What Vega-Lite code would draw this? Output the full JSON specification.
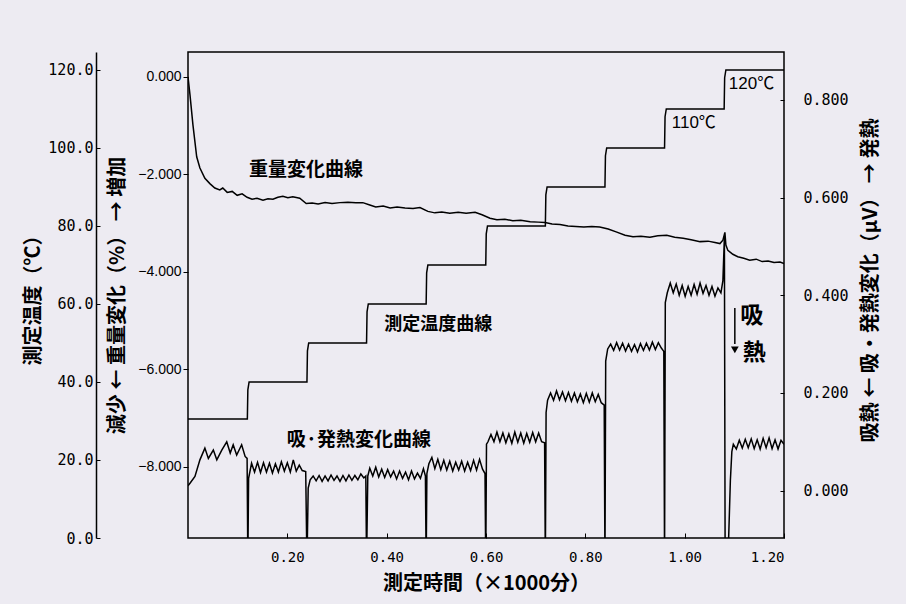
{
  "$schema": "https://vega.github.io/schema/vega-lite/v6.json",
  "width": 596,
  "height": 486,
  "autosize": {"type": "none"},
  "padding": {"left": 188, "top": 52, "right": 122, "bottom": 66},
  "background": "#EDEBF2",
  "config": {
    "view": {"stroke": "black", "strokeWidth": 1.5},
    "axis": {"grid": false, "domainColor": "black", "tickColor": "black", "labelColor": "black", "titleColor": "black"}
  },
  "datasets": {
    "weight": [
      {"t":0,"v":0},{"t":0.004,"v":-0.37},{"t":0.010,"v":-0.99},{"t":0.0175,"v":-1.64},{"t":0.024,"v":-1.87},{"t":0.034,"v":-2.08},{"t":0.044,"v":-2.19},{"t":0.054,"v":-2.28},{"t":0.064,"v":-2.32},{"t":0.070,"v":-2.28},{"t":0.079,"v":-2.37},{"t":0.089,"v":-2.35},{"t":0.099,"v":-2.43},{"t":0.109,"v":-2.40},{"t":0.119,"v":-2.47},{"t":0.129,"v":-2.51},{"t":0.139,"v":-2.49},{"t":0.151,"v":-2.53},{"t":0.161,"v":-2.50},{"t":0.171,"v":-2.51},{"t":0.181,"v":-2.47},{"t":0.191,"v":-2.45},{"t":0.201,"v":-2.48},{"t":0.211,"v":-2.46},{"t":0.225,"v":-2.49},{"t":0.238,"v":-2.60},{"t":0.250,"v":-2.59},{"t":0.262,"v":-2.61},{"t":0.276,"v":-2.58},{"t":0.290,"v":-2.60},{"t":0.306,"v":-2.58},{"t":0.322,"v":-2.57},{"t":0.338,"v":-2.58},{"t":0.352,"v":-2.58},{"t":0.366,"v":-2.63},{"t":0.378,"v":-2.67},{"t":0.393,"v":-2.65},{"t":0.407,"v":-2.69},{"t":0.421,"v":-2.67},{"t":0.437,"v":-2.69},{"t":0.453,"v":-2.70},{"t":0.467,"v":-2.68},{"t":0.483,"v":-2.76},{"t":0.497,"v":-2.79},{"t":0.511,"v":-2.77},{"t":0.527,"v":-2.80},{"t":0.544,"v":-2.78},{"t":0.560,"v":-2.80},{"t":0.578,"v":-2.78},{"t":0.592,"v":-2.83},{"t":0.608,"v":-2.90},{"t":0.622,"v":-2.93},{"t":0.638,"v":-2.92},{"t":0.654,"v":-2.95},{"t":0.670,"v":-2.94},{"t":0.689,"v":-2.97},{"t":0.705,"v":-2.98},{"t":0.719,"v":-2.99},{"t":0.733,"v":-3.02},{"t":0.749,"v":-3.03},{"t":0.765,"v":-3.06},{"t":0.781,"v":-3.07},{"t":0.797,"v":-3.08},{"t":0.813,"v":-3.07},{"t":0.829,"v":-3.08},{"t":0.846,"v":-3.12},{"t":0.862,"v":-3.18},{"t":0.880,"v":-3.25},{"t":0.896,"v":-3.28},{"t":0.912,"v":-3.27},{"t":0.930,"v":-3.29},{"t":0.946,"v":-3.26},{"t":0.964,"v":-3.25},{"t":0.980,"v":-3.29},{"t":0.997,"v":-3.31},{"t":1.013,"v":-3.34},{"t":1.031,"v":-3.38},{"t":1.047,"v":-3.37},{"t":1.061,"v":-3.40},{"t":1.071,"v":-3.42},{"t":1.077,"v":-3.35},{"t":1.081,"v":-3.19},{"t":1.083,"v":-3.45},{"t":1.087,"v":-3.56},{"t":1.097,"v":-3.64},{"t":1.107,"v":-3.69},{"t":1.119,"v":-3.72},{"t":1.131,"v":-3.76},{"t":1.144,"v":-3.74},{"t":1.156,"v":-3.79},{"t":1.168,"v":-3.78},{"t":1.180,"v":-3.81},{"t":1.192,"v":-3.80},{"t":1.2,"v":-3.83}
    ],
    "weightText": [{"t":0.123,"v":-1.91,"s":"重量変化曲線"}],
    "temp": [
      {"t":0,"v":30.5},{"t":0.1195,"v":30.5},{"t":0.1205,"v":38},{"t":0.123,"v":40},{"t":0.2395,"v":40},{"t":0.2405,"v":48},{"t":0.243,"v":50},{"t":0.3595,"v":50},{"t":0.3605,"v":58},{"t":0.363,"v":60},{"t":0.4795,"v":60},{"t":0.4805,"v":68},{"t":0.483,"v":70},{"t":0.5995,"v":70},{"t":0.6005,"v":78},{"t":0.603,"v":80},{"t":0.7195,"v":80},{"t":0.7205,"v":88},{"t":0.723,"v":90},{"t":0.8395,"v":90},{"t":0.8405,"v":98},{"t":0.843,"v":100},{"t":0.9595,"v":100},{"t":0.9605,"v":108},{"t":0.963,"v":110},{"t":1.0795,"v":110},{"t":1.0805,"v":118},{"t":1.083,"v":120},{"t":1.2,"v":120}
    ],
    "tempTextBold": [{"t":0.395,"v":54.6,"s":"測定温度曲線"}],
    "tempText": [{"t":0.974,"v":106.4,"s":"110℃"},{"t":1.089,"v":116.4,"s":"120℃"}],
    "heat": [
      {"t":0,"v":0.010},{"t":0.004,"v":0.015},{"t":0.014,"v":0.029},{"t":0.024,"v":0.063},{"t":0.034,"v":0.087},{"t":0.041,"v":0.066},{"t":0.051,"v":0.083},{"t":0.058,"v":0.063},{"t":0.068,"v":0.083},{"t":0.078,"v":0.100},{"t":0.085,"v":0.077},{"t":0.091,"v":0.094},{"t":0.098,"v":0.073},{"t":0.108,"v":0.094},{"t":0.115,"v":0.070},{"t":0.119,"v":0.066},{"t":0.1205,"v":-0.15},
      {"t":0.122,"v":0.025},{"t":0.128,"v":0.056},{"t":0.134,"v":0.038},{"t":0.140,"v":0.058},{"t":0.146,"v":0.037},{"t":0.152,"v":0.057},{"t":0.158,"v":0.038},{"t":0.164,"v":0.056},{"t":0.170,"v":0.036},{"t":0.176,"v":0.055},{"t":0.182,"v":0.038},{"t":0.188,"v":0.059},{"t":0.194,"v":0.040},{"t":0.200,"v":0.057},{"t":0.206,"v":0.038},{"t":0.212,"v":0.063},{"t":0.218,"v":0.040},{"t":0.224,"v":0.052},{"t":0.230,"v":0.041},{"t":0.237,"v":0.039},{"t":0.2395,"v":-0.15},
      {"t":0.242,"v":0.005},{"t":0.246,"v":0.022},{"t":0.252,"v":0.030},{"t":0.258,"v":0.020},{"t":0.264,"v":0.031},{"t":0.270,"v":0.019},{"t":0.276,"v":0.030},{"t":0.282,"v":0.020},{"t":0.288,"v":0.032},{"t":0.294,"v":0.021},{"t":0.300,"v":0.030},{"t":0.306,"v":0.019},{"t":0.312,"v":0.031},{"t":0.318,"v":0.020},{"t":0.324,"v":0.032},{"t":0.330,"v":0.021},{"t":0.336,"v":0.031},{"t":0.342,"v":0.022},{"t":0.348,"v":0.034},{"t":0.354,"v":0.026},{"t":0.358,"v":0.030},{"t":0.3595,"v":-0.15},
      {"t":0.362,"v":0.030},{"t":0.366,"v":0.046},{"t":0.372,"v":0.030},{"t":0.378,"v":0.048},{"t":0.384,"v":0.028},{"t":0.390,"v":0.044},{"t":0.396,"v":0.027},{"t":0.402,"v":0.043},{"t":0.408,"v":0.028},{"t":0.414,"v":0.040},{"t":0.420,"v":0.024},{"t":0.426,"v":0.040},{"t":0.432,"v":0.025},{"t":0.438,"v":0.038},{"t":0.444,"v":0.022},{"t":0.450,"v":0.040},{"t":0.456,"v":0.024},{"t":0.462,"v":0.036},{"t":0.468,"v":0.025},{"t":0.474,"v":0.045},{"t":0.478,"v":0.030},{"t":0.4795,"v":-0.15},
      {"t":0.481,"v":0.035},{"t":0.485,"v":0.055},{"t":0.491,"v":0.068},{"t":0.497,"v":0.045},{"t":0.503,"v":0.064},{"t":0.509,"v":0.043},{"t":0.515,"v":0.062},{"t":0.521,"v":0.042},{"t":0.527,"v":0.060},{"t":0.533,"v":0.040},{"t":0.539,"v":0.058},{"t":0.545,"v":0.042},{"t":0.551,"v":0.060},{"t":0.557,"v":0.040},{"t":0.563,"v":0.058},{"t":0.569,"v":0.041},{"t":0.575,"v":0.062},{"t":0.581,"v":0.042},{"t":0.587,"v":0.064},{"t":0.593,"v":0.044},{"t":0.598,"v":0.035},{"t":0.5995,"v":-0.15},
      {"t":0.601,"v":0.095},{"t":0.604,"v":0.100},{"t":0.610,"v":0.115},{"t":0.616,"v":0.100},{"t":0.622,"v":0.120},{"t":0.628,"v":0.100},{"t":0.634,"v":0.118},{"t":0.640,"v":0.098},{"t":0.646,"v":0.116},{"t":0.652,"v":0.097},{"t":0.658,"v":0.120},{"t":0.664,"v":0.099},{"t":0.670,"v":0.118},{"t":0.676,"v":0.097},{"t":0.682,"v":0.117},{"t":0.688,"v":0.099},{"t":0.694,"v":0.119},{"t":0.700,"v":0.100},{"t":0.706,"v":0.118},{"t":0.712,"v":0.100},{"t":0.718,"v":0.098},{"t":0.7195,"v":-0.15},
      {"t":0.721,"v":0.160},{"t":0.724,"v":0.185},{"t":0.730,"v":0.200},{"t":0.736,"v":0.185},{"t":0.742,"v":0.204},{"t":0.748,"v":0.186},{"t":0.754,"v":0.202},{"t":0.760,"v":0.184},{"t":0.766,"v":0.201},{"t":0.772,"v":0.183},{"t":0.778,"v":0.200},{"t":0.784,"v":0.182},{"t":0.790,"v":0.198},{"t":0.796,"v":0.180},{"t":0.802,"v":0.199},{"t":0.808,"v":0.181},{"t":0.814,"v":0.200},{"t":0.820,"v":0.182},{"t":0.826,"v":0.197},{"t":0.832,"v":0.180},{"t":0.838,"v":0.175},{"t":0.8395,"v":-0.15},
      {"t":0.841,"v":0.265},{"t":0.845,"v":0.290},{"t":0.851,"v":0.300},{"t":0.857,"v":0.287},{"t":0.863,"v":0.303},{"t":0.869,"v":0.288},{"t":0.875,"v":0.302},{"t":0.881,"v":0.286},{"t":0.887,"v":0.300},{"t":0.893,"v":0.285},{"t":0.899,"v":0.299},{"t":0.905,"v":0.284},{"t":0.911,"v":0.301},{"t":0.917,"v":0.287},{"t":0.923,"v":0.302},{"t":0.929,"v":0.288},{"t":0.935,"v":0.304},{"t":0.941,"v":0.289},{"t":0.947,"v":0.303},{"t":0.953,"v":0.292},{"t":0.958,"v":0.285},{"t":0.9595,"v":-0.15},
      {"t":0.961,"v":0.385},{"t":0.965,"v":0.405},{"t":0.971,"v":0.425},{"t":0.977,"v":0.405},{"t":0.983,"v":0.423},{"t":0.989,"v":0.400},{"t":0.995,"v":0.420},{"t":1.001,"v":0.398},{"t":1.007,"v":0.418},{"t":1.013,"v":0.400},{"t":1.019,"v":0.422},{"t":1.025,"v":0.402},{"t":1.031,"v":0.425},{"t":1.037,"v":0.404},{"t":1.043,"v":0.420},{"t":1.049,"v":0.400},{"t":1.055,"v":0.418},{"t":1.061,"v":0.398},{"t":1.067,"v":0.415},{"t":1.073,"v":0.405},{"t":1.077,"v":0.430},{"t":1.080,"v":0.52},{"t":1.0815,"v":-0.15},{"t":1.087,"v":-0.15},
      {"t":1.092,"v":0.02},{"t":1.095,"v":0.080},{"t":1.098,"v":0.095},{"t":1.104,"v":0.085},{"t":1.110,"v":0.103},{"t":1.116,"v":0.087},{"t":1.122,"v":0.105},{"t":1.128,"v":0.088},{"t":1.134,"v":0.106},{"t":1.140,"v":0.086},{"t":1.146,"v":0.104},{"t":1.152,"v":0.085},{"t":1.158,"v":0.107},{"t":1.164,"v":0.088},{"t":1.170,"v":0.108},{"t":1.176,"v":0.086},{"t":1.182,"v":0.104},{"t":1.188,"v":0.085},{"t":1.194,"v":0.103},{"t":1.2,"v":0.095}
    ],
    "heatText": [{"t":0.199,"v":0.104,"s":"吸·発熱変化曲線"}],
    "heatMark": [{"t":1.135,"v":0.357,"s":"吸"},{"t":1.140,"v":0.282,"s":"熱"}],
    "arrow": [{"t":1.101,"v":0.374,"v2":0.30}],
    "arrowHead": [{"t":1.101,"v":0.288}]
  },
  "resolve": {"scale": {"y": "independent"}, "axis": {"y": "independent"}},
  "layer": [
    {
      "layer": [
        {
          "data": {"name": "weight"},
          "mark": {"type": "line", "color": "black", "strokeWidth": 1.5, "clip": true},
          "encoding": {
            "x": {"field": "t", "type": "quantitative", "scale": {"domain": [0, 1.2], "nice": false, "zero": false},
              "axis": {"orient": "bottom", "values": [0.2, 0.4, 0.6, 0.8, 1.0, 1.2], "format": ".2f", "domain": false,
                "tickSize": -5, "labelPadding": 17, "labelFont": "DejaVu Sans Mono", "labelFontSize": 14,
                "title": "測定時間（×1000分）", "titleFont": "Noto Sans CJK JP", "titleFontWeight": "bold", "titleFontSize": 20, "titlePadding": 9}},
            "y": {"field": "v", "type": "quantitative", "scale": {"domain": [-9.46, 0.51], "nice": false, "zero": false},
              "axis": {"orient": "left", "values": [0, -2, -4, -6, -8], "format": ".3f", "domain": false,
                "tickSize": 5, "labelPadding": 2, "labelFont": "Liberation Sans", "labelFontSize": 14,
                "title": "減少 ← 重量変化（%） → 増加", "titleFont": "Noto Sans CJK JP", "titleFontWeight": "bold", "titleFontSize": 20, "titlePadding": 10}}
          }
        },
        {
          "data": {"name": "weightText"},
          "mark": {"type": "text", "align": "left", "baseline": "middle", "font": "Noto Sans CJK JP", "fontWeight": "bold", "fontSize": 19, "color": "black"},
          "encoding": {
            "x": {"field": "t", "type": "quantitative"},
            "y": {"field": "v", "type": "quantitative"},
            "text": {"field": "s"}
          }
        }
      ]
    },
    {
      "layer": [
        {
          "data": {"name": "temp"},
          "mark": {"type": "line", "color": "black", "strokeWidth": 1.5, "clip": true},
          "encoding": {
            "x": {"field": "t", "type": "quantitative"},
            "y": {"field": "v", "type": "quantitative", "scale": {"domain": [0, 124.6], "nice": false, "zero": false},
              "axis": {"orient": "left", "offset": 92, "values": [0, 20, 40, 60, 80, 100, 120], "format": ".1f", "domainWidth": 1.5,
                "tickSize": -4, "labelPadding": 7, "labelFont": "DejaVu Sans Mono", "labelFontSize": 15,
                "title": "測定温度（℃）", "titleFont": "Noto Sans CJK JP", "titleFontWeight": "bold", "titleFontSize": 20, "titlePadding": 4}}
          }
        },
        {
          "data": {"name": "tempTextBold"},
          "mark": {"type": "text", "align": "left", "baseline": "middle", "font": "Noto Sans CJK JP", "fontWeight": "bold", "fontSize": 18, "color": "black"},
          "encoding": {
            "x": {"field": "t", "type": "quantitative"},
            "y": {"field": "v", "type": "quantitative"},
            "text": {"field": "s"}
          }
        },
        {
          "data": {"name": "tempText"},
          "mark": {"type": "text", "align": "left", "baseline": "middle", "font": "Liberation Sans, Noto Sans CJK JP", "fontSize": 17, "color": "black"},
          "encoding": {
            "x": {"field": "t", "type": "quantitative"},
            "y": {"field": "v", "type": "quantitative"},
            "text": {"field": "s"}
          }
        }
      ]
    },
    {
      "layer": [
        {
          "data": {"name": "heat"},
          "mark": {"type": "line", "color": "black", "strokeWidth": 1.5, "clip": true},
          "encoding": {
            "x": {"field": "t", "type": "quantitative"},
            "y": {"field": "v", "type": "quantitative", "scale": {"domain": [-0.097, 0.898], "nice": false, "zero": false},
              "axis": {"orient": "right", "values": [0, 0.2, 0.4, 0.6, 0.8], "format": ".3f", "domain": false,
                "tickSize": -4, "labelPadding": 23, "labelFont": "DejaVu Sans Mono", "labelFontSize": 15,
                "title": "吸熱 ← 吸・発熱変化（μV） → 発熱", "titleAngle": 270, "titleBaseline": "top", "titleY": 228, "titleFont": "Noto Sans CJK JP", "titleFontWeight": "bold", "titleFontSize": 20, "titlePadding": 12}}
          }
        },
        {
          "data": {"name": "heatText"},
          "mark": {"type": "text", "align": "left", "baseline": "middle", "font": "Noto Sans CJK JP", "fontWeight": "bold", "fontSize": 19, "color": "black"},
          "encoding": {
            "x": {"field": "t", "type": "quantitative"},
            "y": {"field": "v", "type": "quantitative"},
            "text": {"field": "s"}
          }
        },
        {
          "data": {"name": "heatMark"},
          "mark": {"type": "text", "align": "center", "baseline": "middle", "font": "Noto Sans CJK JP", "fontWeight": "bold", "fontSize": 23, "color": "black"},
          "encoding": {
            "x": {"field": "t", "type": "quantitative"},
            "y": {"field": "v", "type": "quantitative"},
            "text": {"field": "s"}
          }
        },
        {
          "data": {"name": "arrow"},
          "mark": {"type": "rule", "color": "black", "strokeWidth": 1.5},
          "encoding": {
            "x": {"field": "t", "type": "quantitative"},
            "y": {"field": "v", "type": "quantitative"},
            "y2": {"field": "v2"}
          }
        },
        {
          "data": {"name": "arrowHead"},
          "mark": {"type": "point", "shape": "triangle-down", "filled": true, "color": "black", "size": 60, "opacity": 1},
          "encoding": {
            "x": {"field": "t", "type": "quantitative"},
            "y": {"field": "v", "type": "quantitative"}
          }
        }
      ]
    }
  ]
}
